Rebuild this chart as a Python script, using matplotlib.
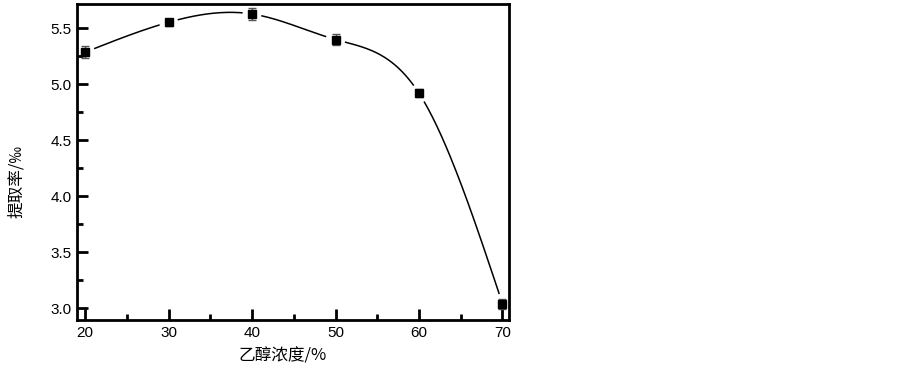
import numpy as np
import matplotlib
matplotlib.use("Agg")
import matplotlib.pyplot as plt
from matplotlib.ticker import MultipleLocator

# data
conc = [20, 30, 40, 50, 60, 70]
rate = [5.286, 5.554, 5.628, 5.40, 4.92, 3.04]
err = [0.055, 0.03, 0.055, 0.05, 0.035, 0.045]


def natural_spline(x, y, xs):
    x = np.asarray(x, float)
    y = np.asarray(y, float)
    n = len(x)
    h = np.diff(x)
    A = np.zeros((n, n))
    b = np.zeros(n)
    A[0, 0] = A[-1, -1] = 1
    for i in range(1, n - 1):
        A[i, i - 1] = h[i - 1]
        A[i, i] = 2 * (h[i - 1] + h[i])
        A[i, i + 1] = h[i]
        b[i] = 3 * ((y[i + 1] - y[i]) / h[i] - (y[i] - y[i - 1]) / h[i - 1])
    c = np.linalg.solve(A, b)
    out = np.empty_like(xs)
    for k, xv in enumerate(xs):
        i = min(max(np.searchsorted(x, xv) - 1, 0), n - 2)
        d = (c[i + 1] - c[i]) / (3 * h[i])
        bb = (y[i + 1] - y[i]) / h[i] - h[i] * (2 * c[i] + c[i + 1]) / 3
        t = xv - x[i]
        out[k] = y[i] + bb * t + c[i] * t ** 2 + d * t ** 3
    return out


fig = plt.figure(figsize=(9.02, 3.72), dpi=100)
ax = fig.add_axes([0.0854, 0.1398, 0.4789, 0.8494])
ax.set_xlim(19.04, 70.78)
ax.set_ylim(2.895, 5.717)

xs = np.linspace(20, 70, 600)
ys = natural_spline(conc, rate, xs)

# leave small gaps round the markers, as the original does
pts = ax.transData.transform(np.column_stack([xs, ys]))
marks = ax.transData.transform(np.column_stack([conc, rate]))
ys_gap = ys.copy()
for m in marks:
    dist = np.hypot(pts[:, 0] - m[0], pts[:, 1] - m[1])
    ys_gap[dist < 10] = np.nan
ax.plot(xs, ys_gap, color="black", lw=1.1)

ax.errorbar(conc, rate, yerr=err, fmt="s", color="black", ms=5.5,
            ecolor="#555555", elinewidth=1, capsize=3, capthick=1)

for s in ax.spines.values():
    s.set_linewidth(2)

ax.xaxis.set_major_locator(MultipleLocator(10))
ax.xaxis.set_minor_locator(MultipleLocator(5))
ax.yaxis.set_major_locator(MultipleLocator(0.5))
ax.yaxis.set_minor_locator(MultipleLocator(0.25))
ax.tick_params(which="both", direction="in", top=False, right=False, width=2)
ax.tick_params(which="major", length=8)
ax.tick_params(which="minor", length=4)
ax.tick_params(labelsize=11, pad=4)
for lab in ax.get_xticklabels() + ax.get_yticklabels():
    lab.set_family(["Liberation Sans", "DejaVu Sans"])

ax.set_xlabel("乙醇浓度/%", family=["Noto Sans CJK SC", "DejaVu Sans"],
              fontsize=12, va="center")
ax.set_ylabel("提取率/‰", family=["Noto Sans CJK SC", "DejaVu Sans"],
              fontsize=12, va="center")
ax.xaxis.set_label_coords(0.477, -0.114)
ax.yaxis.set_label_coords(-0.139, 0.44)

fig.savefig("out.png", dpi=100)
